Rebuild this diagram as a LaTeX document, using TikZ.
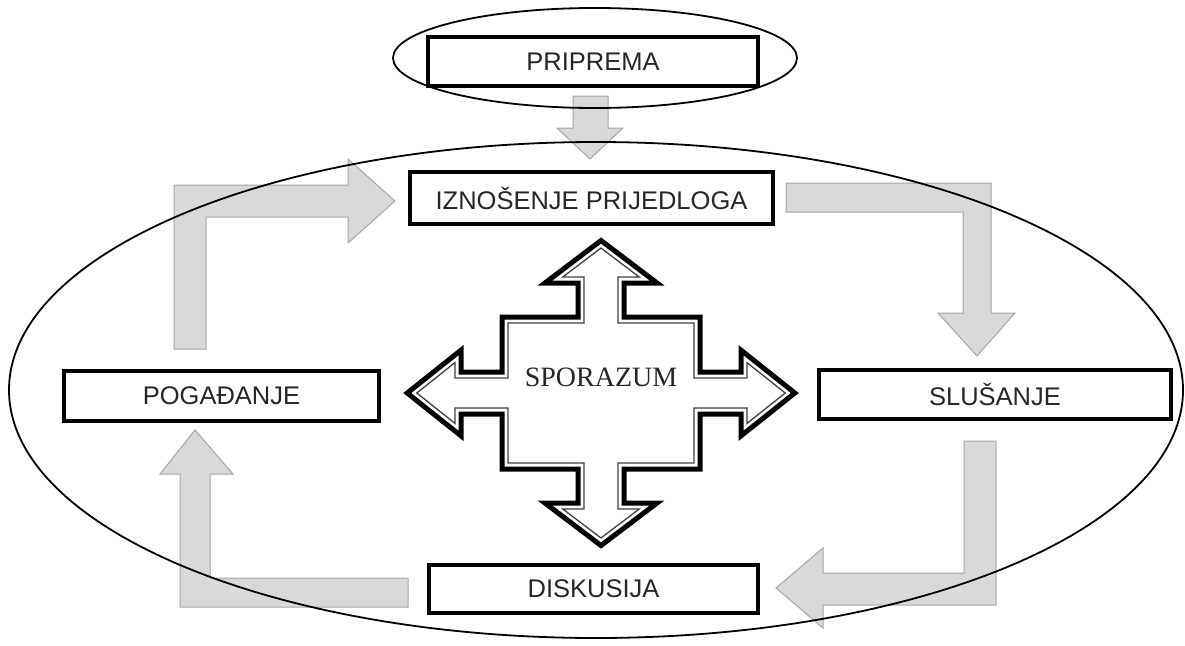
\documentclass[tikz,border=0pt]{standalone}
\usepackage{fontspec}
\setmainfont{Liberation Sans}
\newfontfamily\agreefont{Liberation Serif}
\usetikzlibrary{positioning}

% outline of the four-way arrow, #1 = inset from the outer edge
\newcommand{\agreepath}[1]{
  (0,{-155+1.255*#1}) -- ({62-2.974*#1},{-108-#1}) -- ({25-#1},{-108-#1})
  -- ({25-#1},{-78+#1}) -- ({101-#1},{-78+#1}) -- ({101-#1},{-23+#1})
  -- ({138+#1},{-23+#1}) -- ({138+#1},{-47+2.075*#1}) -- ({197-1.6*#1},0)
  -- ({138+#1},{47-2.075*#1}) -- ({138+#1},{23-#1}) -- ({101-#1},{23-#1})
  -- ({101-#1},{78-#1}) -- ({25-#1},{78-#1}) -- ({25-#1},{108+#1})
  -- ({62-2.974*#1},{108+#1}) -- (0,{155-1.255*#1})
  -- ({-62+2.974*#1},{108+#1}) -- ({-25+#1},{108+#1}) -- ({-25+#1},{78-#1})
  -- ({-101+#1},{78-#1}) -- ({-101+#1},{23-#1}) -- ({-138-#1},{23-#1})
  -- ({-138-#1},{47-2.075*#1}) -- ({-197+1.6*#1},0)
  -- ({-138-#1},{-47+2.075*#1}) -- ({-138-#1},{-23+#1}) -- ({-101+#1},{-23+#1})
  -- ({-101+#1},{-78+#1}) -- ({-25+#1},{-78+#1}) -- ({-25+#1},{-108-#1})
  -- ({-62+2.974*#1},{-108-#1}) -- cycle
}

\tikzset{
  stagebox/.style={draw=black, line width=4pt, fill=white, inner sep=0pt,
    text=black!85, font=\fontsize{25.5}{30}\selectfont},
  greyarrow/.style={fill=black!15, draw=black!35, line width=1pt},
  ring/.style={draw=black, line width=1.8pt},
}

\begin{document}
\begin{tikzpicture}[x=1pt, y=-1pt]
  \useasboundingbox (0,0) rectangle (1185,645);

  % grey block arrows
  \draw[greyarrow] (573,96) -- (608,96) -- (608,128) -- (623,128) -- (590,159)
    -- (557,128) -- (573,128) -- cycle;
  \draw[greyarrow] (174,349) -- (174,185) -- (348,185) -- (348,159) -- (395,201)
    -- (348,243) -- (348,217) -- (206,217) -- (206,349) -- cycle;
  \draw[greyarrow] (786,183) -- (991,183) -- (991,313) -- (1015,313) -- (977,356)
    -- (938,313) -- (963,313) -- (963,212) -- (786,212) -- cycle;
  \draw[greyarrow] (964,441) -- (996,441) -- (996,605) -- (823,605) -- (823,628)
    -- (776,588) -- (823,548) -- (823,573) -- (964,573) -- cycle;
  \draw[greyarrow] (408,578) -- (408,607) -- (180,607) -- (180,474) -- (160,474)
    -- (195,430) -- (233,474) -- (210,474) -- (210,578) -- cycle;

  % ellipses
  \draw[ring] (595,58) ellipse [x radius=202, y radius=50];
  \draw[ring] (596,390) ellipse [x radius=587, y radius=248];

  % stages
  \node[stagebox, minimum width=330, minimum height=49] (prep) at (593,61.5) {PRIPREMA};
  \node[stagebox, minimum width=363, minimum height=52] (prop) at (591.5,198) {IZNOŠENJE PRIJEDLOGA};
  \node[stagebox, minimum width=352, minimum height=49] (listen) at (995,394.5) {SLUŠANJE};
  \node[stagebox, minimum width=315, minimum height=50] (barg) at (221.5,396) {POGAĐANJE};
  \node[stagebox, minimum width=329, minimum height=48] (disc) at (593.5,589) {DISKUSIJA};

  % four-way arrow
  \begin{scope}[shift={(601,393)}]
    \draw[fill=white, line width=5pt, line join=miter] \agreepath{2};
    \draw[line width=1.3pt, draw=black!75] \agreepath{8};
  \end{scope}
  \node[font=\agreefont\fontsize{28}{32}\selectfont, text=black!85] (agree) at (601,377) {SPORAZUM};
\end{tikzpicture}
\end{document}
